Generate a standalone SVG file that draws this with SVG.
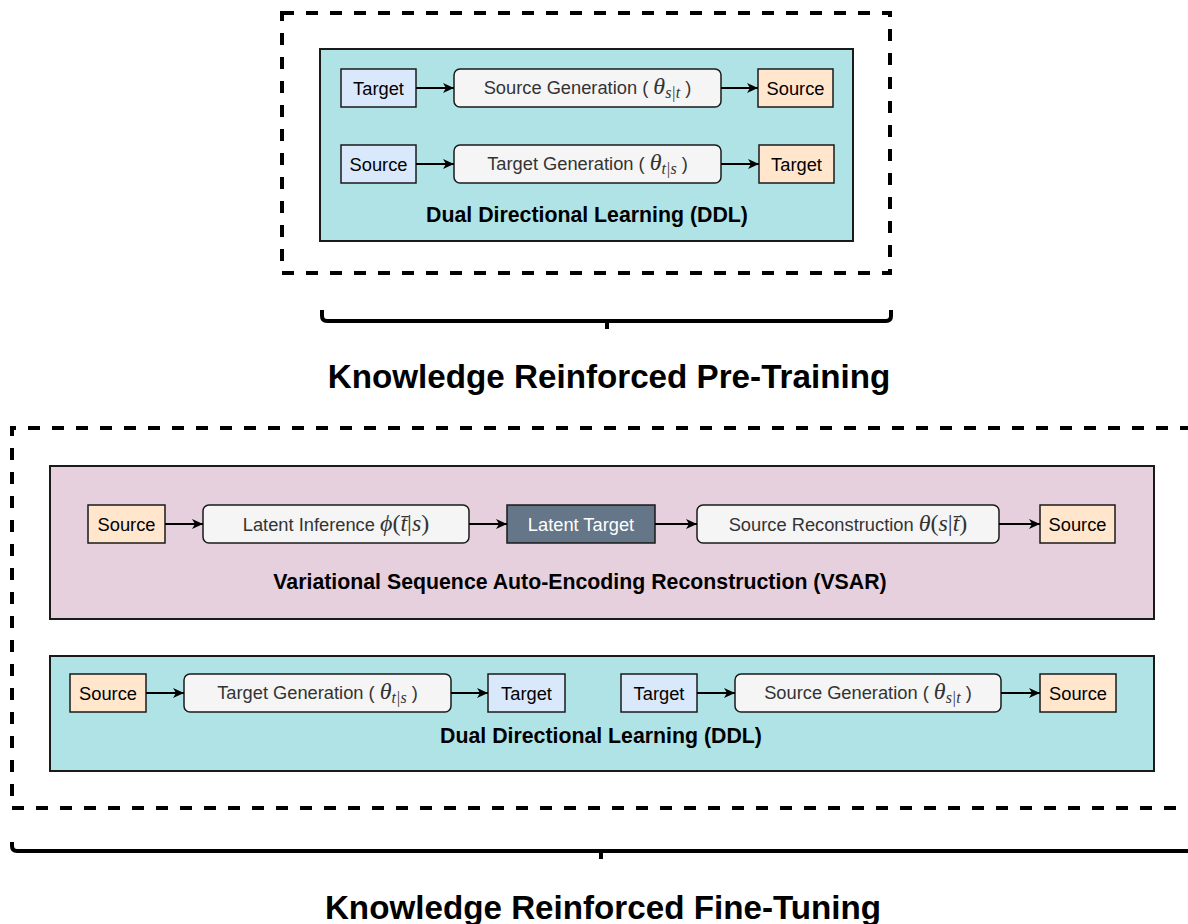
<svg xmlns="http://www.w3.org/2000/svg" width="1188" height="924" viewBox="0 0 1188 924">
<defs>
<marker id="arr" markerUnits="userSpaceOnUse" markerWidth="12" markerHeight="10" refX="11" refY="5" orient="auto">
<path d="M0,0 L11,5 L0,10 L3,5 z" fill="#000"/>
</marker>
<style>
.dash{fill:none;stroke:#000;stroke-width:4;stroke-dasharray:12 12}
.grp{stroke:#1a1a1a;stroke-width:2}
.teal{fill:#b0e3e6}
.pink{fill:#e6d0de}
.blue{fill:#dae8fc;stroke:#1a1a1a;stroke-width:1.5}
.orange{fill:#ffe6cc;stroke:#1a1a1a;stroke-width:1.5}
.proc{fill:#f5f5f5;stroke:#1a1a1a;stroke-width:1.5}
.dark{fill:#647687;stroke:#1a1a1a;stroke-width:1.5}
.t{font-family:"Liberation Sans",Arial,sans-serif;font-size:18.3px;fill:#000;text-anchor:middle}
.tp{font-family:"Liberation Sans",Arial,sans-serif;font-size:18.3px;fill:#333;text-anchor:middle}
.m{font-family:"Liberation Serif","Times New Roman",serif;font-style:italic;font-size:24px}
.mu{font-family:"Liberation Serif","Times New Roman",serif;font-style:normal;font-size:24px}
.sub{font-family:"Liberation Serif","Times New Roman",serif;font-style:italic;font-size:16px}
.lbl{font-family:"Liberation Sans",Arial,sans-serif;font-weight:bold;font-size:21.3px;fill:#000;text-anchor:middle}
.title{font-family:"Liberation Sans",Arial,sans-serif;font-weight:bold;font-size:33.2px;fill:#000;text-anchor:middle}
.con{fill:none;stroke:#000;stroke-width:2;marker-end:url(#arr)}
.brace{fill:none;stroke:#000;stroke-width:4;stroke-linecap:butt}
</style>
</defs>
<rect width="1188" height="924" fill="#fff"/>

<g id="pretraining">
<rect class="dash" x="282" y="13" width="608" height="260"/>
<rect id="ddl-top" class="grp teal" x="320" y="49" width="533" height="192"/>
<text class="lbl" x="587" y="222">Dual Directional Learning (DDL)</text>
</g>

<g id="n-top-target1"><rect class="blue" x="341" y="69" width="75" height="38"/><text class="t" x="378.5" y="94.5">Target</text></g>
<g id="n-top-srcgen"><rect class="proc" x="454" y="69" width="267" height="38" rx="6"/><text class="tp" x="587.5" y="94">Source Generation ( <tspan class="m">θ</tspan><tspan class="sub" dy="4">s|t</tspan><tspan dy="-4"> )</tspan></text></g>
<g id="n-top-source1"><rect class="orange" x="758" y="69" width="75" height="38"/><text class="t" x="795.5" y="94.5">Source</text></g>
<g id="n-top-source2"><rect class="blue" x="341" y="145" width="75" height="38"/><text class="t" x="378.5" y="170.5">Source</text></g>
<g id="n-top-tgtgen"><rect class="proc" x="454" y="145" width="267" height="38" rx="6"/><text class="tp" x="587.5" y="170">Target Generation ( <tspan class="m">θ</tspan><tspan class="sub" dy="4">t|s</tspan><tspan dy="-4"> )</tspan></text></g>
<g id="n-top-target2"><rect class="orange" x="759" y="145" width="75" height="38"/><text class="t" x="796.5" y="170.5">Target</text></g>

<g id="brace-top">
<path class="brace" d="M322,310 V316 Q322,321 327,321 H886 Q891,321 891,316 V310 M607,321 V329"/>
<text class="title" x="609" y="388">Knowledge Reinforced Pre-Training</text>
</g>

<g id="finetuning">
<path class="dash" d="M1192,428 H12 V808 H1192"/>
<rect id="vsar" class="grp pink" x="50" y="466" width="1104" height="153"/>
<text class="lbl" x="580" y="589">Variational Sequence Auto-Encoding Reconstruction (VSAR)</text>
<rect id="ddl-bottom" class="grp teal" x="50" y="656" width="1104" height="115"/>
<text class="lbl" x="601" y="743">Dual Directional Learning (DDL)</text>
</g>

<g id="n-v-source1"><rect class="orange" x="88" y="505" width="77" height="38"/><text class="t" x="126.5" y="530.5">Source</text></g>
<g id="n-v-latinf"><rect class="proc" x="203" y="505" width="266" height="38" rx="6"/><text class="tp" x="336" y="531">Latent Inference <tspan class="m">ϕ</tspan><tspan class="mu">(</tspan><tspan class="m">t̄</tspan><tspan class="mu">|</tspan><tspan class="m">s</tspan><tspan class="mu">)</tspan></text></g>
<g id="n-v-lattgt"><rect class="dark" x="507" y="505" width="148" height="38"/><text class="t" x="581" y="530.5" style="fill:#fff">Latent Target</text></g>
<g id="n-v-srcrec"><rect class="proc" x="697" y="505" width="302" height="38" rx="6"/><text class="tp" x="848" y="531">Source Reconstruction  <tspan class="m">θ</tspan><tspan class="mu">(</tspan><tspan class="m">s</tspan><tspan class="mu">|</tspan><tspan class="m">t̄</tspan><tspan class="mu">)</tspan></text></g>
<g id="n-v-source2"><rect class="orange" x="1040" y="505" width="75" height="38"/><text class="t" x="1077.5" y="530.5">Source</text></g>

<g id="n-b-source1"><rect class="orange" x="70" y="674" width="76" height="38"/><text class="t" x="108" y="699.5">Source</text></g>
<g id="n-b-tgtgen"><rect class="proc" x="184" y="674" width="267" height="38" rx="6"/><text class="tp" x="317.5" y="699">Target Generation ( <tspan class="m">θ</tspan><tspan class="sub" dy="4">t|s</tspan><tspan dy="-4"> )</tspan></text></g>
<g id="n-b-target1"><rect class="blue" x="488" y="674" width="77" height="38"/><text class="t" x="526.5" y="699.5">Target</text></g>
<g id="n-b-target2"><rect class="blue" x="621" y="674" width="76" height="38"/><text class="t" x="659" y="699.5">Target</text></g>
<g id="n-b-srcgen"><rect class="proc" x="735" y="674" width="266" height="38" rx="6"/><text class="tp" x="868" y="699">Source Generation ( <tspan class="m">θ</tspan><tspan class="sub" dy="4">s|t</tspan><tspan dy="-4"> )</tspan></text></g>
<g id="n-b-source2"><rect class="orange" x="1040" y="674" width="76" height="38"/><text class="t" x="1078" y="699.5">Source</text></g>

<g id="brace-bottom">
<path class="brace" d="M12,842 V846 Q12,851 17,851 H1192 M601,851 V859"/>
<text class="title" x="603" y="919">Knowledge Reinforced Fine-Tuning</text>
</g>

<g id="connectors">
<line class="con" x1="416" y1="88" x2="454" y2="88"/>
<line class="con" x1="721" y1="88" x2="758" y2="88"/>
<line class="con" x1="416" y1="164" x2="454" y2="164"/>
<line class="con" x1="721" y1="164" x2="759" y2="164"/>
<line class="con" x1="165" y1="524" x2="203" y2="524"/>
<line class="con" x1="469" y1="524" x2="507" y2="524"/>
<line class="con" x1="655" y1="524" x2="697" y2="524"/>
<line class="con" x1="999" y1="524" x2="1040" y2="524"/>
<line class="con" x1="146" y1="693" x2="184" y2="693"/>
<line class="con" x1="451" y1="693" x2="488" y2="693"/>
<line class="con" x1="697" y1="693" x2="735" y2="693"/>
<line class="con" x1="1001" y1="693" x2="1040" y2="693"/>
</g>
</svg>
